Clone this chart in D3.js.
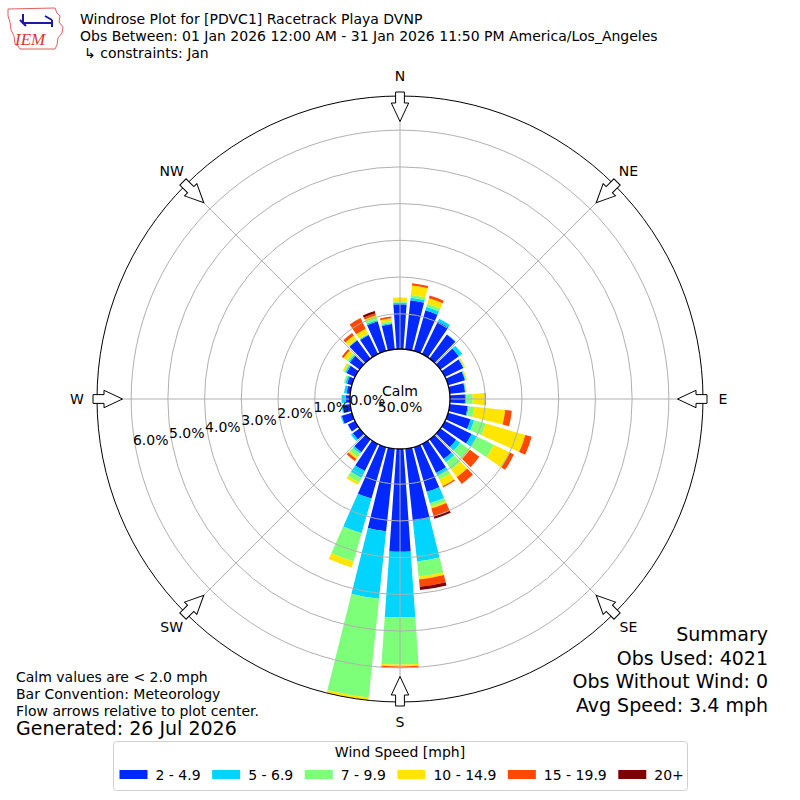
<!DOCTYPE html>
<html>
<head>
<meta charset="utf-8">
<script src="https://cdn.jsdelivr.net/npm/d3@7"></script>
<style>
  body { margin: 0; background: #fff; }
  svg { font-family: "DejaVu Sans", sans-serif; }
</style>
</head>
<body>
<script>
//wind directions (degrees, meteorological) and percent frequency per speed bin
var directions = [0, 10, 20, 30, 40, 50, 60, 70, 80, 90, 100, 110, 120, 130, 140, 150, 160, 170,
                  180, 190, 200, 210, 220, 230, 240, 250, 260, 270, 280, 290, 300, 310, 320, 330, 340, 350];

var speed2to5   = [1.26, 1.38, 1.19, 1.03, 0.85, 0.66, 0.60, 0.52, 0.46, 0.45, 0.53, 0.68, 0.85, 0.57, 0.70, 0.92, 1.31, 2.02,
                   2.84, 2.30, 1.50, 0.86, 0.47, 0.27, 0.26, 0.33, 0.25, 0.16, 0.14, 0.18, 0.30, 0.37, 0.66, 0.62, 0.88, 0.73];
var speed5to7   = [0.05, 0.07, 0.10, 0.08, 0.01, 0.11, 0.02, 0.02, 0.02, 0.03, 0.03, 0.10, 0.16, 0.14, 0.11, 0.08, 0.32, 1.11,
                   1.79, 1.85, 0.98, 0.21, 0.05, 0.06, 0.00, 0.03, 0.03, 0.11, 0.07, 0.05, 0.04, 0.04, 0.01, 0.02, 0.04, 0.03];
var speed7to10  = [0.04, 0.08, 0.09, 0.00, 0.00, 0.00, 0.01, 0.01, 0.00, 0.18, 0.15, 0.33, 0.51, 0.28, 0.24, 0.12, 0.10, 0.41,
                   1.28, 2.70, 0.80, 0.14, 0.12, 0.00, 0.00, 0.00, 0.00, 0.00, 0.00, 0.04, 0.04, 0.05, 0.02, 0.02, 0.07, 0.05];
var speed10to15 = [0.09, 0.26, 0.15, 0.00, 0.00, 0.00, 0.03, 0.03, 0.03, 0.33, 0.85, 1.12, 0.49, 0.04, 0.26, 0.20, 0.05, 0.08,
                   0.05, 0.08, 0.17, 0.07, 0.06, 0.00, 0.00, 0.00, 0.00, 0.00, 0.00, 0.00, 0.04, 0.12, 0.13, 0.15, 0.06, 0.08];
var speed15to20 = [0.00, 0.06, 0.08, 0.00, 0.00, 0.00, 0.00, 0.00, 0.00, 0.03, 0.18, 0.18, 0.12, 0.32, 0.23, 0.04, 0.23, 0.20,
                   0.04, 0.00, 0.00, 0.00, 0.07, 0.00, 0.00, 0.00, 0.00, 0.00, 0.00, 0.00, 0.00, 0.06, 0.08, 0.32, 0.06, 0.05];
var speed20plus = [0.00, 0.00, 0.00, 0.00, 0.00, 0.00, 0.00, 0.00, 0.00, 0.00, 0.00, 0.00, 0.00, 0.00, 0.00, 0.00, 0.06, 0.09,
                   0.00, 0.00, 0.00, 0.00, 0.00, 0.00, 0.00, 0.00, 0.00, 0.00, 0.00, 0.00, 0.00, 0.00, 0.00, 0.00, 0.06, 0.00];

var speedLabels = ["2 - 4.9", "5 - 6.9", "7 - 9.9", "10 - 14.9", "15 - 19.9", "20+"];
var speedColors = ["#0028ff", "#00d4ff", "#7dff7a", "#ffe500", "#ff4800", "#7f0000"];

var ringTicks = [0, 1, 2, 3, 4, 5, 6];
var compassLabels = ["N", "NE", "E", "SE", "S", "SW", "W", "NW"];
var compassAngles = [0, 45, 90, 135, 180, 225, 270, 315];

var titleLines = ["Windrose Plot for [PDVC1] Racetrack Playa DVNP",
                  "Obs Between: 01 Jan 2026 12:00 AM - 31 Jan 2026 11:50 PM America/Los_Angeles",
                  "\u21b3 constraints: Jan"];
var noteLines = ["Calm values are < 2.0 mph", "Bar Convention: Meteorology", "Flow arrows relative to plot center."];
var summaryLines = ["Summary", "Obs Used: 4021", "Obs Without Wind: 0", "Avg Speed: 3.4 mph"];
var calmValue = 50.0;

window.onload = drawRose();

function drawRose(){

    var width = 800,
        height = 800,
        cx = 400,
        cy = 399,
        outerR = 303,
        calmR = 48.5;

    var svg = d3.select("body")
        .append("svg")
        .attr("width", width)
        .attr("height", height);

    //stack the speed bins for every direction
    var series = [speed2to5, speed5to7, speed7to10, speed10to15, speed15to20, speed20plus];
    var rows = directions.map(function(d, i){
        var row = {dir: d};
        series.forEach(function(s, k){ row["b" + k] = s[i]; });
        return row;
    });
    var keys = series.map(function(s, k){ return "b" + k; });
    var stacked = d3.stack().keys(keys)(rows);
    var totals = rows.map(function(r){ return d3.sum(keys, function(k){ return r[k]; }); });

    var r = d3.scaleLinear()
        .domain([0, d3.max(totals)])
        .range([calmR, outerR]);

    var rad = Math.PI / 180,
        halfWidth = 4;

    var arc = d3.arc();

    var plot = svg.append("g")
        .attr("transform", "translate(" + cx + "," + cy + ")");

    //bars
    stacked.forEach(function(layer, k){
        plot.append("g")
            .selectAll("path")
            .data(layer)
            .enter()
            .append("path")
            .attr("fill", speedColors[k])
            .attr("d", function(d){
                if (d[1] - d[0] <= 0) return null;
                return arc({
                    innerRadius: r(d[0]),
                    outerRadius: r(d[1]),
                    startAngle: (d.data.dir - halfWidth) * rad,
                    endAngle: (d.data.dir + halfWidth) * rad
                });
            });
    });

    //grid rings and spokes over the bars
    plot.selectAll(".ring")
        .data(ringTicks.filter(function(t){ return t > 0; }))
        .enter()
        .append("circle")
        .attr("r", function(d){ return r(d); })
        .attr("fill", "none")
        .attr("stroke", "#b0b0b0")
        .attr("stroke-width", 1);

    plot.selectAll(".spoke")
        .data(compassAngles)
        .enter()
        .append("line")
        .attr("x1", function(d){ return calmR * Math.sin(d * rad); })
        .attr("y1", function(d){ return -calmR * Math.cos(d * rad); })
        .attr("x2", function(d){ return outerR * Math.sin(d * rad); })
        .attr("y2", function(d){ return -outerR * Math.cos(d * rad); })
        .attr("stroke", "#b0b0b0")
        .attr("stroke-width", 1);

    plot.append("circle")
        .attr("r", outerR)
        .attr("fill", "none")
        .attr("stroke", "#000")
        .attr("stroke-width", 1);

    plot.append("circle")
        .attr("r", 50)
        .attr("fill", "#fff")
        .attr("stroke", "#000")
        .attr("stroke-width", 1.3);

    //compass arrows pointing inward
    plot.selectAll(".arrow")
        .data(compassAngles)
        .enter()
        .append("path")
        .attr("transform", function(d){ return "rotate(" + d + ")"; })
        .attr("d", "M-4.4,-307L4.4,-307L4.4,-296L8.7,-296L0,-277.5L-8.7,-296L-4.4,-296Z")
        .attr("fill", "#fff")
        .attr("stroke", "#000")
        .attr("stroke-width", 1);

    plot.selectAll(".compass")
        .data(compassLabels)
        .enter()
        .append("text")
        .attr("x", function(d, i){ return 323 * Math.sin(compassAngles[i] * rad); })
        .attr("y", function(d, i){ return -323 * Math.cos(compassAngles[i] * rad); })
        .attr("text-anchor", "middle")
        .attr("dominant-baseline", "central")
        .attr("font-size", 14)
        .text(function(d){ return d; });

    //ring labels
    var labAng = 10.5 * rad;
    plot.selectAll(".rlabel")
        .data(ringTicks)
        .enter()
        .append("text")
        .attr("x", function(d){ return -r(d) * Math.cos(labAng) + 15; })
        .attr("y", function(d){ return r(d) * Math.sin(labAng) - 8; })
        .attr("text-anchor", "middle")
        .attr("dominant-baseline", "central")
        .attr("font-size", 14)
        .text(function(d){ return d.toFixed(1) + "%"; });

    plot.append("text")
        .attr("y", -8)
        .attr("text-anchor", "middle")
        .attr("dominant-baseline", "central")
        .attr("font-size", 14)
        .text("Calm");
    plot.append("text")
        .attr("y", 8)
        .attr("text-anchor", "middle")
        .attr("dominant-baseline", "central")
        .attr("font-size", 14)
        .text(calmValue.toFixed(1) + "%");

    //titles
    svg.selectAll(".title")
        .data(titleLines)
        .enter()
        .append("text")
        .attr("x", function(d, i){ return i == 2 ? 84 : 80; })
        .attr("y", function(d, i){ return 24 + i * 17; })
        .attr("font-size", 14)
        .text(function(d){ return d; });

    //IEM logo, rough
    var logo = svg.append("g");
    logo.append("path")
        .attr("d", "M8,9L55,8L57,13L60,16L59,22L63,27L62,33L58,38L57,45L55,49L20,49L18,46L15,44L14,36L11,30L10,22L8,16Z")
        .attr("fill", "none")
        .attr("stroke", "#d33")
        .attr("stroke-width", 0.8);
    logo.append("path")
        .attr("d", "M22,23L52,23M45,16L52,20M52,20L52,27M23,14L23,23M20,20L26,26")
        .attr("fill", "none")
        .attr("stroke", "#1a1aa8")
        .attr("stroke-width", 2);
    logo.append("text")
        .attr("x", 15)
        .attr("y", 45)
        .attr("font-family", "'Liberation Serif', serif")
        .attr("font-style", "italic")
        .attr("font-size", 17)
        .attr("fill", "#d33")
        .text("IEM");

    //notes bottom-left
    svg.selectAll(".note")
        .data(noteLines)
        .enter()
        .append("text")
        .attr("x", 16)
        .attr("y", function(d, i){ return 682 + i * 17; })
        .attr("font-size", 14)
        .text(function(d){ return d; });

    svg.append("text")
        .attr("x", 16)
        .attr("y", 735)
        .attr("font-size", 19)
        .text("Generated: 26 Jul 2026");

    svg.selectAll(".summary")
        .data(summaryLines)
        .enter()
        .append("text")
        .attr("x", 768)
        .attr("y", function(d, i){ return 641 + i * 23.5; })
        .attr("text-anchor", "end")
        .attr("font-size", 19)
        .text(function(d){ return d; });

    //legend
    var legend = svg.append("g");
    legend.append("rect")
        .attr("x", 113.5)
        .attr("y", 741.5)
        .attr("width", 574)
        .attr("height", 49)
        .attr("rx", 3)
        .attr("fill", "#fff")
        .attr("stroke", "#d0d0d0");
    legend.append("text")
        .attr("x", 400)
        .attr("y", 757)
        .attr("text-anchor", "middle")
        .attr("font-size", 14)
        .text("Wind Speed [mph]");

    var lx = 119.5;
    speedLabels.forEach(function(lab, k){
        legend.append("rect")
            .attr("x", lx)
            .attr("y", 770)
            .attr("width", 28)
            .attr("height", 9)
            .attr("fill", speedColors[k]);
        var t = legend.append("text")
            .attr("x", lx + 36)
            .attr("y", 779.5)
            .attr("font-size", 14)
            .text(lab);
        lx = lx + 36 + t.node().getComputedTextLength() + 11.5;
    });
};
</script>
</body>
</html>
